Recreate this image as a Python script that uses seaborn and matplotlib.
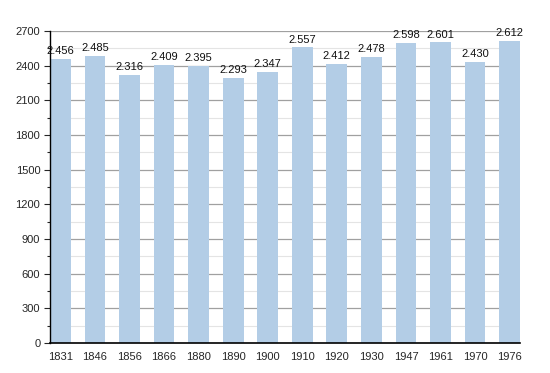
import matplotlib
matplotlib.use("Agg")
import matplotlib.pyplot as plt
import seaborn as sns
import pandas as pd
from matplotlib.ticker import MultipleLocator

years = ["1831", "1846", "1856", "1866", "1880", "1890", "1900", "1910", "1920", "1930", "1947", "1961", "1970", "1976"]
population = [2456, 2485, 2316, 2409, 2395, 2293, 2347, 2557, 2412, 2478, 2598, 2601, 2430, 2612]

df = pd.DataFrame({"year": years, "pop": population})

sns.set_style("white")
plt.rcParams["font.family"] = ["Liberation Sans", "DejaVu Sans"]

fig = plt.figure(figsize=(5.5, 3.73), dpi=100)
ax = fig.add_axes([0.0909, 0.080, 0.8545, 0.837])

sns.barplot(data=df, x="year", y="pop", color="#b3cde6", saturation=1, width=0.6,
            linewidth=0, edgecolor="none", errorbar=None, ax=ax, zorder=2)

ax.set_xlim(-0.3, 13.3)
ax.set_ylim(0, 2700)
ax.yaxis.set_major_locator(MultipleLocator(300))
ax.yaxis.set_minor_locator(MultipleLocator(150))
ax.set_axisbelow(True)
ax.grid(which="major", axis="y", color="#a0a0a0", linewidth=0.9, zorder=0)
ax.grid(which="minor", axis="y", color="#e4e4e4", linewidth=0.8, zorder=0)
for gl in ax.yaxis.get_gridlines() + ax.yaxis.get_minorticklines():
    pass

for s in ["top", "right"]:
    ax.spines[s].set_visible(False)
ax.spines["left"].set_color("black")
ax.spines["bottom"].set_color("black")
ax.spines["left"].set_linewidth(1.0)
ax.spines["bottom"].set_linewidth(1.2)
ax.spines["left"].set_zorder(4)
ax.spines["bottom"].set_zorder(4)

ax.tick_params(axis="y", which="major", left=True, length=4, width=0.8, labelsize=8, pad=3)
ax.tick_params(axis="y", which="minor", left=True, length=2, width=0.8)
ax.tick_params(axis="x", bottom=False, labelsize=8, pad=3)
ax.set_xlabel("")
ax.set_ylabel("")

for i, v in enumerate(population):
    ax.text(i, v + 25, f"{v:,}".replace(",", "."), ha="center", va="bottom", fontsize=8, color="#111111", zorder=5)

fig.savefig("out.png", dpi=100)
